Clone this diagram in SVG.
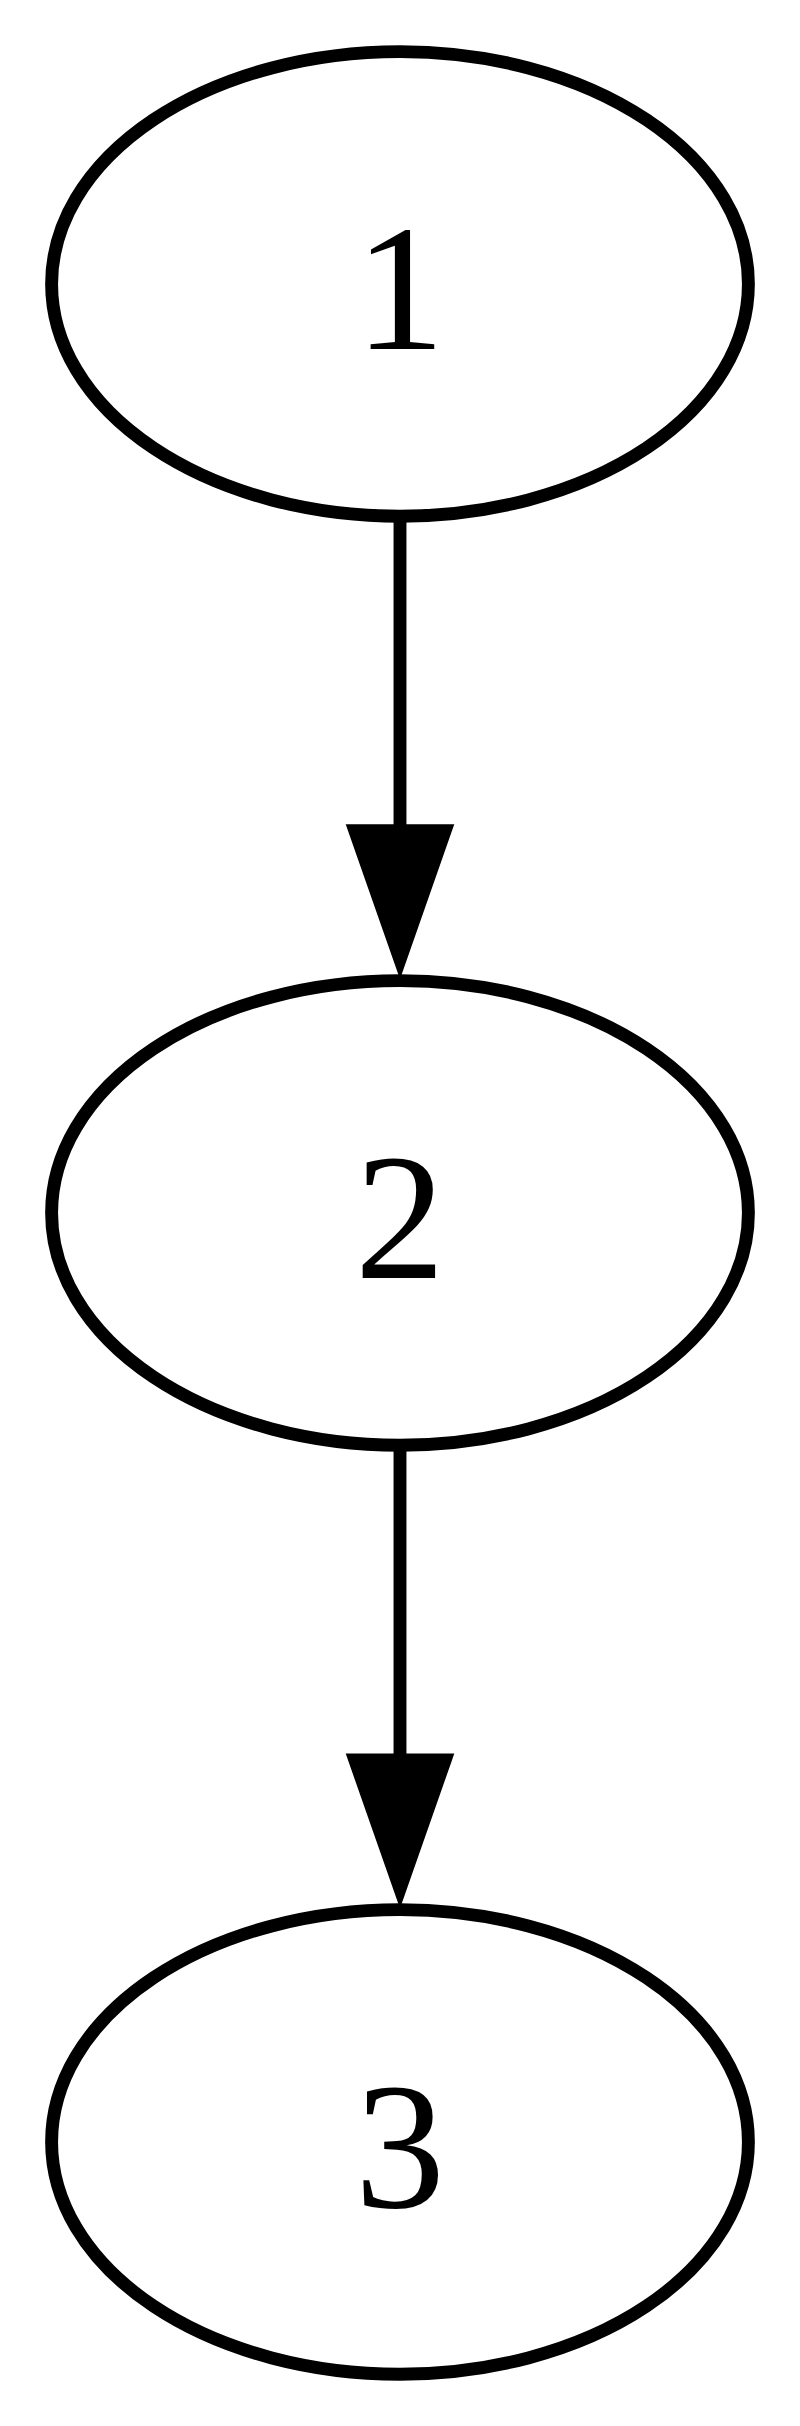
<svg xmlns="http://www.w3.org/2000/svg" width="800" height="2426" viewBox="0 0 800 2426">
  <style>
    .node ellipse { fill: none; stroke: #000; stroke-width: 12.9; }
    .node text { font-family: 'Liberation Serif', 'Times New Roman', Tinos, Times, serif; font-size: 180.6px; text-anchor: middle; fill: #000; }
    .edge line { stroke: #000; stroke-width: 12.9; fill: none; }
    .edge polygon { fill: #000; stroke: #000; stroke-width: 12.9; }
  </style>
  <rect x="0" y="0" width="800" height="2426" fill="#fff"/>
  <g id="node1" class="node">
    <ellipse cx="400" cy="283.9" rx="348.4" ry="232.3"/>
    <text x="400" y="349">1</text>
  </g>
  <g id="node2" class="node">
    <ellipse cx="400" cy="1212.9" rx="348.4" ry="232.3"/>
    <text x="400" y="1278">2</text>
  </g>
  <g id="node3" class="node">
    <ellipse cx="400" cy="2141.9" rx="348.4" ry="232.3"/>
    <text x="400" y="2207">3</text>
  </g>
  <g id="edges">
    <g id="edge1_2" class="edge">
      <line x1="400" y1="516.2" x2="400" y2="830.7"/>
      <polygon points="445.2,830.7 400,959.7 354.8,830.7"/>
    </g>
    <g id="edge2_3" class="edge">
      <line x1="400" y1="1445.2" x2="400" y2="1760"/>
      <polygon points="445.2,1760 400,1889 354.8,1760"/>
    </g>
  </g>
</svg>
